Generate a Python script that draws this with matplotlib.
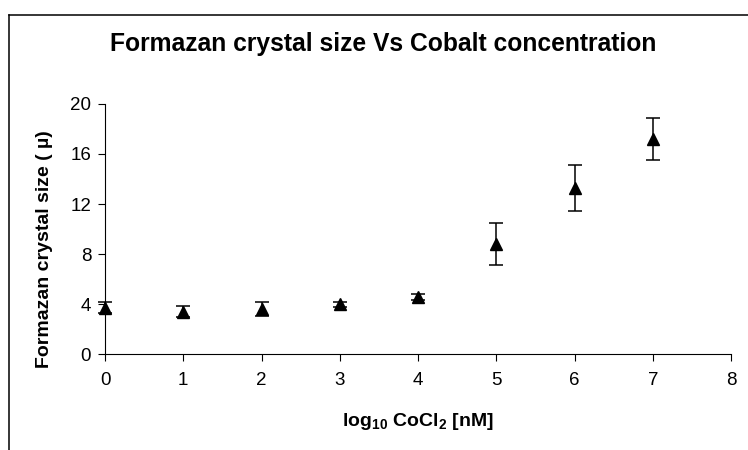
import matplotlib.pyplot as plt
from matplotlib.lines import Line2D

plt.rcParams['font.family'] = ['Liberation Sans', 'DejaVu Sans']
plt.rcParams['mathtext.fontset'] = 'custom'
plt.rcParams['mathtext.rm'] = 'Liberation Sans'
plt.rcParams['mathtext.bf'] = 'Liberation Sans:bold'

log_conc = [0, 1, 2, 3, 4, 5, 6, 7]
crystal_size = [3.7, 3.4, 3.6, 4.0, 4.55, 8.8, 13.3, 17.2]
size_err = [0.45, 0.45, 0.55, 0.2, 0.25, 1.65, 1.85, 1.7]

fig = plt.figure(figsize=(7.48, 4.5), dpi=100)
ax = fig.add_axes([0.1404, 0.2133, 0.8369, 0.5556])

markers, caps, bars = ax.errorbar(log_conc, crystal_size, yerr=size_err, fmt='^',
                                  color='black', markersize=9, ecolor='black',
                                  elinewidth=1.1, capsize=4.7, capthick=1.1)
markers.set_clip_on(False)
for c in caps:
    c.set_clip_on(False)
for b in bars:
    b.set_clip_on(False)

ax.set_xlim(0, 8)
ax.set_ylim(0, 20)
ax.set_xticks(range(0, 9))
ax.set_yticks(range(0, 21, 4))
ax.spines['top'].set_visible(False)
ax.spines['right'].set_visible(False)
ax.tick_params(direction='out', length=5, labelsize=13.5, pad=5)
ax.tick_params(axis='x', pad=8)
ax.set_xlabel(r'log$_{\mathbf{10}}$ CoCl$_{\mathbf{2}}$ [nM]', fontsize=14, fontweight='bold')
ax.xaxis.set_label_coords(0.5, -0.27)
ax.xaxis.label.set_va('center')
ax.set_ylabel('Formazan crystal size ( µ)', fontsize=14, fontweight='bold')
ax.yaxis.set_label_coords(-0.096, 0.42)
ax.yaxis.label.set_va('center')

fig.text(0.512, 0.903, 'Formazan crystal size Vs Cobalt concentration',
         fontsize=17.7, fontweight='bold', ha='center', va='center')

# chart area border
fig.add_artist(Line2D([0.012, 0.012], [0, 0.967], color='black', lw=1.1,
                      transform=fig.transFigure))
fig.add_artist(Line2D([0.012, 1.0], [0.967, 0.967], color='black', lw=1.1,
                      transform=fig.transFigure))

plt.savefig('out.png', dpi=100)
